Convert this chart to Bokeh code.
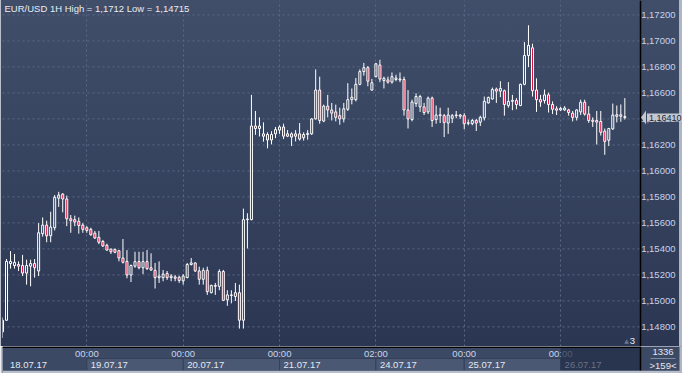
import pandas as pd
from bokeh.plotting import figure
from bokeh.models import Range1d, FixedTicker, CustomJSTickFormatter, Label, ColumnDataSource, PolyAnnotation
from bokeh.layouts import column
from bokeh.embed import file_html
from bokeh.resources import INLINE
from bokeh.core.properties import value

# ---------------- data ----------------
symbol = "EUR/USD"
timeframe = "1H"

opens = [1.14762, 1.14851, 1.15287, 1.15272, 1.15280, 1.15272, 1.15214, 1.15267, 1.15287, 1.15230,
         1.15517, 1.15583, 1.15501, 1.15563, 1.15790, 1.15821, 1.15784, 1.15632, 1.15625, 1.15612,
         1.15583, 1.15563, 1.15550, 1.15521, 1.15489, 1.15457, 1.15428, 1.15398, 1.15396, 1.15386,
         1.15330, 1.15304, 1.15199, 1.15267, 1.15302, 1.15255, 1.15302, 1.15255, 1.15235, 1.15179,
         1.15179, 1.15211, 1.15179, 1.15184, 1.15181, 1.15154, 1.15179, 1.15280, 1.15292, 1.15230,
         1.15166, 1.15235, 1.15063, 1.15119, 1.15112, 1.15226, 1.15008, 1.15046, 1.15034, 1.15063,
         1.14851, 1.15625, 1.15625, 1.16345, 1.16326, 1.16267, 1.16280, 1.16238, 1.16285, 1.16314,
         1.16338, 1.16267, 1.16285, 1.16267, 1.16285, 1.16255, 1.16280, 1.16285, 1.16400, 1.16622,
         1.16383, 1.16498, 1.16469, 1.16454, 1.16425, 1.16400, 1.16474, 1.16548, 1.16548, 1.16666,
         1.16764, 1.16794, 1.16622, 1.16725, 1.16814, 1.16695, 1.16700, 1.16683, 1.16703, 1.16707,
         1.16703, 1.16469, 1.16395, 1.16518, 1.16493, 1.16493, 1.16454, 1.16560, 1.16395, 1.16432,
         1.16425, 1.16368, 1.16405, 1.16425, 1.16430, 1.16425, 1.16366, 1.16363, 1.16388, 1.16375,
         1.16408, 1.16523, 1.16553, 1.16629, 1.16614, 1.16617, 1.16503, 1.16535, 1.16541, 1.16503,
         1.16666, 1.16888, 1.16947, 1.16622, 1.16548, 1.16541, 1.16585, 1.16511, 1.16478, 1.16469,
         1.16469, 1.16469, 1.16444, 1.16412, 1.16454, 1.16528, 1.16437, 1.16390, 1.16388, 1.16380,
         1.16306, 1.16236, 1.16323, 1.16420, 1.16432, 1.16418]

highs = [1.14873, 1.15322, 1.15383, 1.15361, 1.15304, 1.15354, 1.15317, 1.15317, 1.15322, 1.15598,
         1.15642, 1.15617, 1.15686, 1.15814, 1.15839, 1.15829, 1.15810, 1.15661, 1.15656, 1.15642,
         1.15598, 1.15575, 1.15563, 1.15538, 1.15538, 1.15469, 1.15440, 1.15403, 1.15403, 1.15391,
         1.15476, 1.15391, 1.15280, 1.15378, 1.15378, 1.15378, 1.15391, 1.15366, 1.15292, 1.15304,
         1.15238, 1.15230, 1.15206, 1.15199, 1.15194, 1.15206, 1.15292, 1.15330, 1.15297, 1.15263,
         1.15255, 1.15263, 1.15125, 1.15138, 1.15243, 1.15238, 1.15082, 1.15082, 1.15138, 1.15125,
         1.15710, 1.15674, 1.16585, 1.16461, 1.16412, 1.16373, 1.16297, 1.16305, 1.16338, 1.16351,
         1.16363, 1.16314, 1.16297, 1.16314, 1.16368, 1.16297, 1.16314, 1.16405, 1.16781, 1.16725,
         1.16510, 1.16585, 1.16523, 1.16510, 1.16486, 1.16523, 1.16675, 1.16634, 1.16715, 1.16781,
         1.16831, 1.16807, 1.16707, 1.16831, 1.16855, 1.16725, 1.16725, 1.16757, 1.16740, 1.16757,
         1.16725, 1.16622, 1.16548, 1.16597, 1.16585, 1.16523, 1.16572, 1.16572, 1.16503, 1.16486,
         1.16438, 1.16486, 1.16438, 1.16461, 1.16438, 1.16444, 1.16395, 1.16400, 1.16400, 1.16425,
         1.16572, 1.16572, 1.16641, 1.16641, 1.16690, 1.16626, 1.16683, 1.16585, 1.16560, 1.16671,
         1.16991, 1.17120, 1.16979, 1.16712, 1.16585, 1.16626, 1.16602, 1.16535, 1.16498, 1.16493,
         1.16498, 1.16478, 1.16461, 1.16474, 1.16548, 1.16548, 1.16498, 1.16412, 1.16461, 1.16461,
         1.16326, 1.16331, 1.16518, 1.16503, 1.16511, 1.16560]

lows = [1.14715, 1.14846, 1.15248, 1.15248, 1.15230, 1.15191, 1.15125, 1.15112, 1.15179, 1.15191,
        1.15494, 1.15451, 1.15451, 1.15542, 1.15723, 1.15681, 1.15575, 1.15524, 1.15575, 1.15517,
        1.15524, 1.15524, 1.15501, 1.15476, 1.15436, 1.15415, 1.15386, 1.15361, 1.15366, 1.15304,
        1.15287, 1.15174, 1.15145, 1.15255, 1.15243, 1.15206, 1.15238, 1.15230, 1.15095, 1.15138,
        1.15151, 1.15161, 1.15151, 1.15151, 1.15138, 1.15125, 1.15174, 1.15272, 1.15223, 1.15125,
        1.15125, 1.15046, 1.15058, 1.15046, 1.15082, 1.15001, 1.14962, 1.14981, 1.14999, 1.14787,
        1.14787, 1.15403, 1.15620, 1.16277, 1.16265, 1.16225, 1.16174, 1.16204, 1.16252, 1.16285,
        1.16245, 1.16260, 1.16191, 1.16227, 1.16233, 1.16233, 1.16240, 1.16277, 1.16395, 1.16363,
        1.16375, 1.16412, 1.16388, 1.16381, 1.16355, 1.16373, 1.16461, 1.16512, 1.16535, 1.16659,
        1.16733, 1.16651, 1.16617, 1.16720, 1.16683, 1.16634, 1.16671, 1.16671, 1.16690, 1.16683,
        1.16425, 1.16326, 1.16381, 1.16493, 1.16454, 1.16430, 1.16437, 1.16338, 1.16363, 1.16368,
        1.16260, 1.16285, 1.16368, 1.16405, 1.16400, 1.16321, 1.16351, 1.16351, 1.16307, 1.16345,
        1.16388, 1.16518, 1.16548, 1.16523, 1.16567, 1.16425, 1.16486, 1.16467, 1.16474, 1.16498,
        1.16659, 1.16799, 1.16572, 1.16454, 1.16493, 1.16518, 1.16449, 1.16437, 1.16430, 1.16461,
        1.16461, 1.16425, 1.16381, 1.16388, 1.16430, 1.16425, 1.16370, 1.16338, 1.16203, 1.16272,
        1.16124, 1.16191, 1.16316, 1.16373, 1.16378, 1.16395]

closes = [1.14851, 1.15304, 1.15304, 1.15297, 1.15267, 1.15214, 1.15272, 1.15287, 1.15255, 1.15524,
          1.15583, 1.15501, 1.15568, 1.15797, 1.15814, 1.15784, 1.15632, 1.15617, 1.15607, 1.15580,
          1.15550, 1.15542, 1.15509, 1.15484, 1.15451, 1.15422, 1.15391, 1.15378, 1.15374, 1.15330,
          1.15297, 1.15199, 1.15272, 1.15302, 1.15255, 1.15302, 1.15248, 1.15238, 1.15179, 1.15191,
          1.15206, 1.15179, 1.15191, 1.15174, 1.15157, 1.15191, 1.15280, 1.15292, 1.15230, 1.15166,
          1.15235, 1.15071, 1.15119, 1.15112, 1.15226, 1.15004, 1.15046, 1.15041, 1.15063, 1.14851,
          1.15625, 1.15630, 1.16345, 1.16326, 1.16345, 1.16285, 1.16238, 1.16280, 1.16318, 1.16338,
          1.16267, 1.16285, 1.16260, 1.16285, 1.16245, 1.16280, 1.16289, 1.16400, 1.16622, 1.16388,
          1.16498, 1.16469, 1.16444, 1.16412, 1.16400, 1.16478, 1.16548, 1.16567, 1.16666, 1.16764,
          1.16794, 1.16690, 1.16678, 1.16824, 1.16707, 1.16712, 1.16683, 1.16725, 1.16715, 1.16700,
          1.16469, 1.16400, 1.16530, 1.16572, 1.16572, 1.16449, 1.16560, 1.16388, 1.16430, 1.16425,
          1.16373, 1.16430, 1.16425, 1.16430, 1.16420, 1.16363, 1.16370, 1.16388, 1.16368, 1.16412,
          1.16535, 1.16565, 1.16626, 1.16614, 1.16634, 1.16511, 1.16535, 1.16543, 1.16511, 1.16666,
          1.16888, 1.16966, 1.16617, 1.16548, 1.16530, 1.16585, 1.16511, 1.16474, 1.16467, 1.16481,
          1.16484, 1.16449, 1.16412, 1.16469, 1.16528, 1.16437, 1.16388, 1.16381, 1.16375, 1.16297,
          1.16227, 1.16326, 1.16430, 1.16432, 1.16420, 1.16410]

# hourly bars of the two trading stretches shown (weekend gap between them)
times = pd.date_range("2017-07-18 03:00", "2017-07-21 23:00", freq="h").append(
        pd.date_range("2017-07-24 02:00", "2017-07-26 16:00", freq="h"))

y_ticks = [1.148, 1.150, 1.152, 1.154, 1.156, 1.158, 1.160, 1.162, 1.164, 1.166, 1.168, 1.170, 1.172]
corner_top = "1336"
corner_bottom = ">159<"
marker_text = "3"

# ---------------- helpers ----------------
def fmt(v):
    return ("%.5f" % v).rstrip("0").replace(".", ",")

def fmt5(v):
    return ("%.5f" % v).replace(".", ",")

FONT = "Liberation Sans"
FS = "9.5px"
W, H_MAIN, H_STRIP = 682, 346, 27
ML = 2
n = len(closes)
x0 = 0.0
x1 = n + 2.9                      # right edge of the candle area (price-scale line)
ppu = (640 - ML) / (x1 - x0)      # px per bar
xs_end = x0 + (W - ML) / ppu      # right edge incl. price-scale area
y_lo, y_hi = 1.14649, 1.17311
ppy = H_MAIN / (y_hi - y_lo)

def px_x(px):
    return x0 + (px - ML) / ppu

def px_y(py):
    return y_hi - py / ppy

idx = list(range(n))
body_top = [max(o, c) for o, c in zip(opens, closes)]
body_bot = [min(o, c) for o, c in zip(opens, closes)]
up = [c >= o for o, c in zip(opens, closes)]

src_all = ColumnDataSource(dict(x=idx, high=highs, low=lows, top=body_top, bot=body_bot))
src_up = ColumnDataSource(dict(x=[i for i in idx if up[i]],
                               top=[body_top[i] for i in idx if up[i]],
                               bot=[body_bot[i] for i in idx if up[i]]))
src_dn = ColumnDataSource(dict(x=[i for i in idx if not up[i]],
                               top=[body_top[i] for i in idx if not up[i]],
                               bot=[body_bot[i] for i in idx if not up[i]]))

boundaries = [i for i in range(1, n) if times[i].date() != times[i - 1].date()]

# ---------------- main chart ----------------
p = figure(width=W, height=H_MAIN, x_range=Range1d(x0, xs_end), y_range=Range1d(y_lo, y_hi),
           x_axis_location=None, y_axis_location="left", output_backend="svg",
           toolbar_location=None, min_border_left=ML, min_border_right=0,
           min_border_top=0, min_border_bottom=0, background_fill_alpha=0,
           border_fill_alpha=0, outline_line_color=None)
p.styles = {"background": "linear-gradient(to right, #b7bfcc 0px, #b7bfcc 1px, transparent 1px, "
                          "transparent 679px, #aeb6c4 679px), "
                          "linear-gradient(to bottom, #404e69 0%, #36435f 50%, #2b3652 100%)"}

# vertical day separators
p.xgrid.ticker = FixedTicker(ticks=boundaries)
p.xgrid.grid_line_color = "#5b6986"
p.xgrid.grid_line_dash = "2 3"
p.ygrid.visible = False
# horizontal price grid, only over the candle area
p.segment(x0=x0, x1=x1, y0=y_ticks, y1=y_ticks, line_color="#5b6986", line_dash="2 3", line_width=1)

# price scale: axis drawn at the right edge of the candle area, labels to its right
ax = p.yaxis[0]
ax.fixed_location = x1
ax.ticker = FixedTicker(ticks=y_ticks)
ax.formatter = CustomJSTickFormatter(code="return tick.toFixed(5).replace('.', ',');")
ax.major_label_text_font = FONT
ax.major_label_text_font_size = FS
ax.major_label_text_color = "#c8d3ea"
ax.axis_line_color = "black"
ax.axis_line_width = 1.5
ax.major_tick_line_color = None
ax.minor_tick_line_color = None
ax.major_tick_out = 0
ax.major_tick_in = 0
ax.major_label_standoff = -35

p.segment(x0="x", y0="high", x1="x", y1="top", source=src_all, line_color="white", line_width=1)
p.segment(x0="x", y0="bot", x1="x", y1="low", source=src_all, line_color="white", line_width=1)
p.vbar(x="x", width=0.5, top="top", bottom="bot", source=src_up,
       fill_alpha=0, line_color="white", line_width=1)
p.vbar(x="x", width=0.5, top="top", bottom="bot", source=src_dn,
       fill_color="#d8113c", line_color="white", line_width=1)

title_txt = "%s %s High = %s Low = %s" % (symbol, timeframe, fmt(max(highs)), fmt(min(lows)))
p.add_layout(Label(x=px_x(4), y=px_y(8), text=title_txt, text_font=FONT, text_font_size=FS,
                   text_color="#e8ecf3", text_baseline="middle", text_align="left"))

# current price marker in the price-scale area
last = closes[-1]
p.add_layout(PolyAnnotation(xs=[px_x(640.5), px_x(645.5), px_x(645.5)],
                            ys=[last, last + 7 / ppy, last - 7 / ppy],
                            fill_color="#c3c8d0", fill_alpha=1, line_color=None))
p.add_layout(Label(x=px_x(646.5), y=last, text=fmt5(last),
                   text_font=FONT, text_font_size="9px", text_color="#1d2536",
                   text_baseline="middle", text_align="left",
                   background_fill_color="#c3c8d0", padding=(2, 1)))

p.add_layout(Label(x=px_x(626), y=px_y(340), text="\u25b2", text_font="DejaVu Sans",
                   text_font_size="6px", text_color="#6c768a", text_baseline="middle", text_align="center"))
p.add_layout(Label(x=px_x(632), y=px_y(340), text=marker_text, text_font=FONT, text_font_size=FS,
                   text_color="#e8ecf3", text_baseline="middle", text_align="center"))

# ---------------- time strip ----------------
s = figure(width=W, height=H_STRIP, x_range=Range1d(x0, xs_end), y_range=Range1d(0, H_STRIP),
           x_axis_location=None, y_axis_location=None, output_backend="svg", toolbar_location=None,
           min_border_left=ML, min_border_right=0, min_border_top=0, min_border_bottom=0,
           background_fill_color="#3c4964", border_fill_color="#b7bfcc", outline_line_color=None)
s.grid.visible = False

s.quad(left=boundaries[:-1], right=boundaries[1:], top=15, bottom=2.7,
       fill_color="#4a5874", line_color="#34405a", line_width=1)

s.text(x=boundaries, y=19.8, text=[times[b].strftime("%H:%M") for b in boundaries],
       text_font=value(FONT), text_font_size=FS, text_color="#c8d3ea",
       text_align="center", text_baseline="middle")

day_starts = [0] + boundaries
date_x = [px_x(9.5)] + [b + 4 / ppu for b in boundaries[:-1]]
s.text(x=date_x, y=8.3, text=[times[b].strftime("%d.%m.%y") for b in day_starts[:-1]],
       text_font=value(FONT), text_font_size=FS, text_color="#e3e8f1",
       text_align="left", text_baseline="middle")

s.quad(left=[boundaries[-1]], right=[x1], top=25.6, bottom=2.7,
       fill_color="#232d45", fill_alpha=0.72, line_color=None)
s.text(x=[boundaries[-1] + 4 / ppu], y=8.3, text=[times[boundaries[-1]].strftime("%d.%m.%y")],
       text_font=value(FONT), text_font_size=FS, text_color="#687288",
       text_align="left", text_baseline="middle")

s.quad(left=[x0], right=[x1], top=27, bottom=25.6, fill_color="black", line_color=None)
s.segment(x0=[x1], y0=[2.7], x1=[x1], y1=[27], line_color="black", line_width=1.5)

s.text(x=[px_x(662.5)], y=21.7, text=[corner_top], text_font=value(FONT), text_font_size=FS,
       text_color="#e3e8f1", text_align="center", text_baseline="middle")
s.segment(x0=[px_x(650)], y0=[15], x1=[px_x(675)], y1=[15], line_color="#7f8aa0", line_width=1)
s.text(x=[px_x(662.5)], y=8.3, text=[corner_bottom], text_font=value(FONT), text_font_size=FS,
       text_color="#e3e8f1", text_align="center", text_baseline="middle")

s.quad(left=[x0], right=[xs_end], top=2.7, bottom=0, fill_color="#b7bfcc", line_color=None)
s.quad(left=[px_x(679)], right=[xs_end], top=27, bottom=0, fill_color="#aeb6c4", line_color=None)

layout = column(p, s, spacing=0)
open("out.html", "w").write(file_html(layout, INLINE))
